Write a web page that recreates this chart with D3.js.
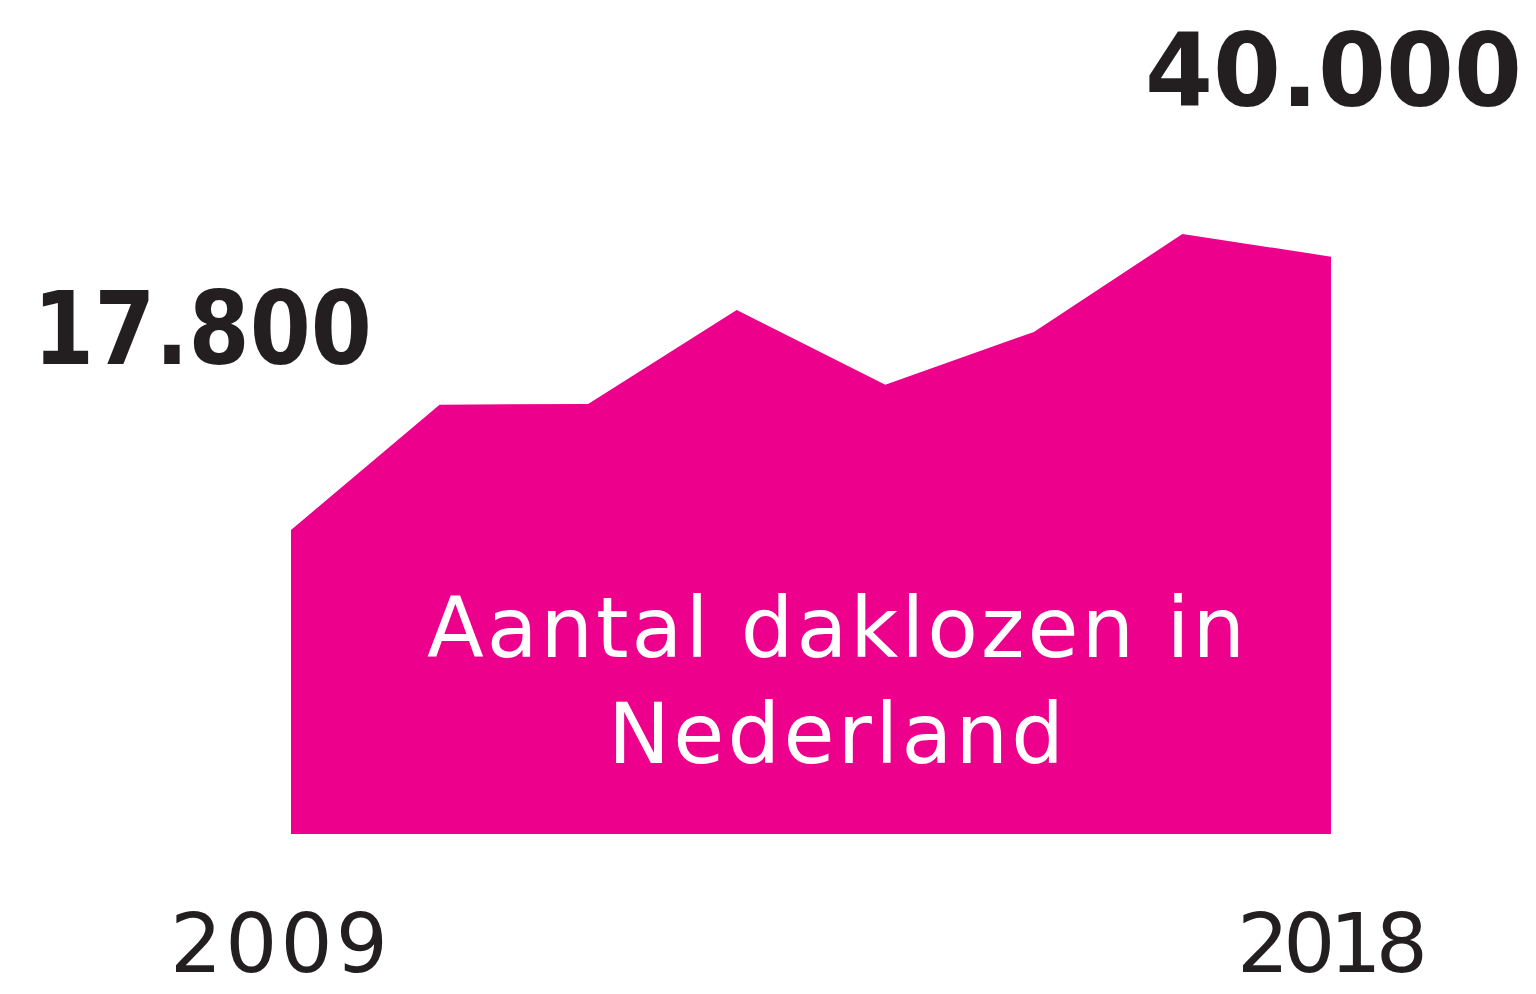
<html>
	<head>
		<title>Aantal daklozen in Nederland</title>
		<script src="https://d3js.org/d3.v7.min.js"></script>
		<style>
			body{margin:0;background:#fff;}
			.area{fill:#ec008c;}
			.big{font-family:"DejaVu Sans";font-weight:bold;fill:#231f20;font-size:101px;}
			.year{font-family:"DejaVu Sans";fill:#231f20;font-size:82px;}
			.label{font-family:"DejaVu Sans";fill:#fff;font-size:83px;}
		</style>
	</head>
	<body>
		<script>

		//chart layout
		const w = 1536;
		const h = 994;

		//values (8 points between 2009 and 2018)
		const points = ["p1","p2","p3","p4","p5","p6","p7","p8"];
		const values = [17800,27200,27250,34300,28700,32650,40000,38300];
		const yearLabels = ["2009","2018"];
		const valueLabels = ["17.800","40.000"];
		const titleLines = ["Aantal daklozen in","Nederland"];

		let data = points.map(function(p,i){return {name:p,value:values[i]}});

		let xScale = d3.scalePoint()
			.domain(points)
			.range([291,1331]);

		let yScale = d3.scaleLinear()
			.domain([-5000,40000])
			.range([834,234]);

		let svg = d3.select("body").append("svg")
			.attr("width",w)
			.attr("height",h)

		//area
		const area = d3.area()
			.x(function(d){return xScale(d.name)})
			.y0(yScale(-5000))
			.y1(function(d){return yScale(d.value)});

		svg.append("path")
			.datum(data)
			.attr("class","area")
			.attr("d",area);

		//big value labels (widths matched to the original wide typeface)
		svg.append("text")
			.attr("class","big")
			.attr("x",33)
			.attr("y",364)
			.attr("textLength",339)
			.attr("lengthAdjust","spacingAndGlyphs")
			.text(valueLabels[0]);

		svg.append("text")
			.attr("class","big")
			.attr("x",1145)
			.attr("y",106)
			.attr("textLength",377)
			.attr("lengthAdjust","spacingAndGlyphs")
			.text(valueLabels[1]);

		//years
		svg.append("text")
			.attr("class","year")
			.attr("x",xScale(points[0])-121)
			.attr("y",972)
			.attr("textLength",218)
			.attr("lengthAdjust","spacing")
			.text(yearLabels[0]);

		svg.append("text")
			.attr("class","year")
			.attr("x",xScale(points[points.length-1])-94)
			.attr("y",972)
			.attr("textLength",191)
			.attr("lengthAdjust","spacing")
			.text(yearLabels[1]);

		//label inside the area
		const lineWidths = [818,456];
		svg.append("g")
			.selectAll("text")
			.data(titleLines)
			.enter()
			.append("text")
			.attr("class","label")
			.attr("x",function(d,i){return 836-lineWidths[i]/2})
			.attr("y",function(d,i){return 657+i*106})
			.attr("textLength",function(d,i){return lineWidths[i]})
			.attr("lengthAdjust","spacing")
			.text(function(d){return d});

		</script>
	</body>
</html>
